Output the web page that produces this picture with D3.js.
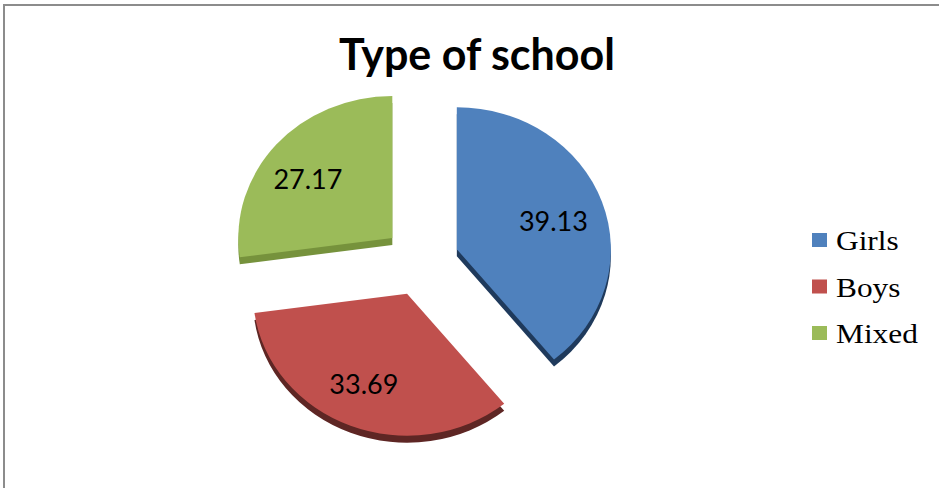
<!DOCTYPE html>
<html>
<head>
<meta charset="utf-8">
<script src="https://cdn.jsdelivr.net/npm/d3@7"></script>
<style>
  html, body { margin: 0; padding: 0; background: #fff; }
  svg { display: block; }
</style>
</head>
<body>
<svg id="chart" width="939" height="488"></svg>
<script>
const title = "Type of school";
const categories = ["Girls", "Boys", "Mixed"];
const values = [39.13, 33.69, 27.17];
const labels = ["39.13", "33.69", "27.17"];
const topColors = ["#4F81BD", "#C0504D", "#9BBB59"];
const sideColors = ["#1F3A5C", "#5E2624", "#76923C"];

const svg = d3.select("#chart");

// frame
svg.append("rect")
  .attr("x", 4).attr("y", 5).attr("width", 960).attr("height", 520)
  .attr("fill", "#fff").attr("stroke", "#8c8c8c").attr("stroke-width", 2);

// title
svg.append("text")
  .attr("x", 477).attr("y", 70)
  .attr("text-anchor", "middle")
  .attr("font-family", "Lato, 'Open Sans', sans-serif")
  .attr("font-weight", "bold")
  .attr("font-size", 43)
  .attr("fill", "#000")
  .text(title);

// pie geometry
const cx = 421, cy = 261, rx = 154, ry = 142, depth = 7, explode = 0.247;
const k = ry / rx;
const pie = d3.pie().sort(null).value(d => d);
const arcs = pie(values);
const arc = d3.arc().innerRadius(0).outerRadius(rx);
const labelArc = d3.arc().innerRadius(rx * 0.66).outerRadius(rx * 0.66);

function offset(d) {
  const m = (d.startAngle + d.endAngle) / 2;
  return [cx + explode * rx * Math.sin(m), cy - explode * ry * Math.cos(m)];
}

// sides (extrusion)
arcs.forEach((d, i) => {
  const [ox, oy] = offset(d);
  svg.append("g")
    .attr("transform", `translate(${ox},${oy + depth}) scale(1,${k})`)
    .append("path")
    .attr("d", arc(d))
    .attr("fill", sideColors[i]);
});

// top faces
arcs.forEach((d, i) => {
  const [ox, oy] = offset(d);
  svg.append("g")
    .attr("transform", `translate(${ox},${oy}) scale(1,${k})`)
    .append("path")
    .attr("d", arc(d))
    .attr("fill", topColors[i]);
});

// data labels
arcs.forEach((d, i) => {
  const [ox, oy] = offset(d);
  const c = labelArc.centroid(d);
  svg.append("text")
    .attr("x", ox + c[0] * 1.05 - 4)
    .attr("y", oy + c[1] * k + 3)
    .attr("dy", "0.36em")
    .attr("text-anchor", "middle")
    .attr("font-family", "Lato, 'Open Sans', sans-serif")
    .attr("font-size", 27)
    .attr("fill", "#000")
    .text(labels[i]);
});

// legend
const legend = svg.append("g").attr("transform", "translate(812,250)");
categories.forEach((c, i) => {
  const g = legend.append("g").attr("transform", `translate(0,${i * 46.5})`);
  g.append("rect")
    .attr("x", 0).attr("y", -17).attr("width", 15).attr("height", 14)
    .attr("fill", topColors[i]);
  g.append("text")
    .attr("transform", "translate(24,0) scale(1.12,1)")
    .attr("font-family", "'Liberation Serif', 'Times New Roman', serif")
    .attr("font-size", 28)
    .attr("fill", "#000")
    .text(c);
});
</script>
</body>
</html>
